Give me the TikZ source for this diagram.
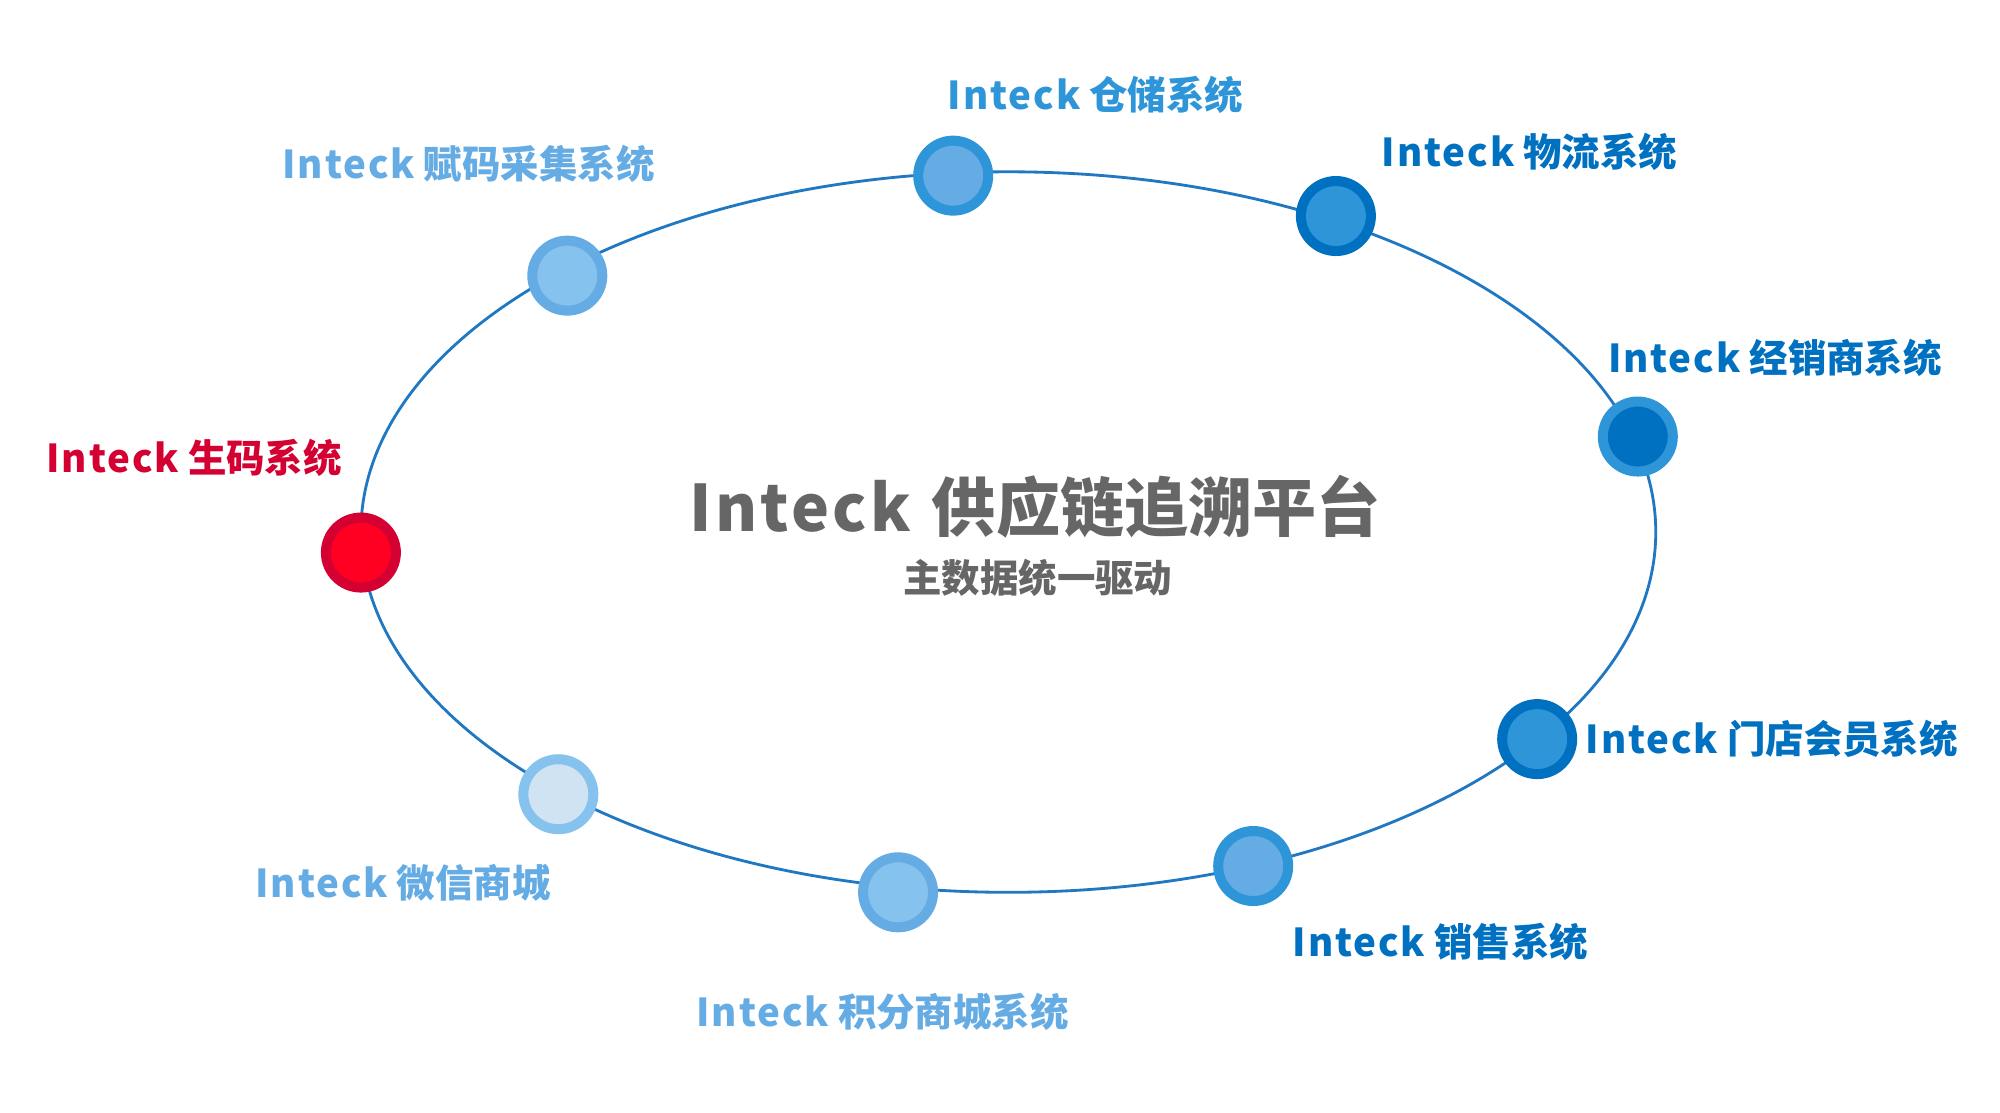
\documentclass[tikz,border=0pt]{standalone}
\usepackage{fontspec}
\setmainfont{Noto Sans CJK SC}
\usetikzlibrary{positioning}
\definecolor{darkblue}{HTML}{0070C0}
\definecolor{midblue}{HTML}{2E96D8}
\definecolor{softblue}{HTML}{65ACE4}
\definecolor{paleblue}{HTML}{85C3EE}
\definecolor{mist}{HTML}{D0E3F3}
\definecolor{crimson}{HTML}{D50032}
\definecolor{scarlet}{HTML}{FF0022}
\definecolor{ringblue}{HTML}{1F78C1}
\definecolor{titlegray}{HTML}{666666}
\newcommand{\brand}{{\addfontfeature{LetterSpace=5}Inteck}}

\begin{document}
\begin{tikzpicture}[x=0.5pt,y=-0.5pt,on grid,
      dot/.style 2 args={circle,draw=#1,fill=#2,line width=3.9pt,minimum size=27.3pt,inner sep=0pt},
      sys/.style={font=\fontsize{15pt}{18pt}\selectfont\bfseries,text=#1,inner sep=0pt}]
			\fill[white] (0,0) rectangle (1560,868);
			\useasboundingbox (0,0) rectangle (1560,868);
			\draw[ringblue,line width=1.1pt] (786.5,415) ellipse [x radius=252.5pt,y radius=140.5pt];
			% systems on the ring
			\node[dot={midblue}{softblue}] (wms) at (743.5,137) {};
			\node[dot={darkblue}{midblue}] (tms) at (1042,168.5) {};
			\node[dot={midblue}{darkblue}] (dms) at (1277.5,340.5) {};
			\node[dot={darkblue}{midblue}] (crm) at (1199,576.5) {};
			\node[dot={midblue}{softblue}] (sales) at (977.5,675.5) {};
			\node[dot={softblue}{paleblue}] (pts) at (700.5,696) {};
			\node[dot={paleblue}{mist}] (wx) at (435.5,619.5) {};
			\node[dot={crimson}{scarlet}] (gen) at (281.5,431) {};
			\node[dot={softblue}{paleblue}] (col) at (442.5,215) {};
			% labels
			\node[sys=midblue] (wmsL) [above right=31.5pt and 55.5pt of wms] {\brand{} 仓储系统};
			\node[sys=darkblue] (tmsL) [above right=25pt and 75.5pt of tms] {\brand{} 物流系统};
			\node[sys=darkblue] (dmsL) [above right=30.5pt and 53.5pt of dms] {\brand{} 经销商系统};
			\node[sys=darkblue] (crmL) [right=91.5pt of crm] {\brand{} 门店会员系统};
			\node[sys=darkblue] (salesL) [below right=29.5pt and 73pt of sales] {\brand{} 销售系统};
			\node[sys=softblue] (ptsL) [below left=46.5pt and 6pt of pts] {\brand{} 积分商城系统};
			\node[sys=softblue] (wxL) [below left=34.5pt and 60.5pt of wx] {\brand{} 微信商城};
			\node[sys=crimson] (genL) [above left=37pt and 65pt of gen] {\brand{} 生码系统};
			\node[sys=softblue] (colL) [above left=43.5pt and 38.5pt of col] {\brand{} 赋码采集系统};
			% platform
			\node[font=\fontsize{25pt}{30pt}\selectfont\bfseries,text=titlegray,inner sep=0pt] (hub) at (807.5,395) {\brand{}\hspace{0.1em} 供应链追溯平台};
			\node[sys=titlegray] (hubsub) [below right=28pt and 1pt of hub] {主数据统一驱动};
		\end{tikzpicture}
\end{document}
